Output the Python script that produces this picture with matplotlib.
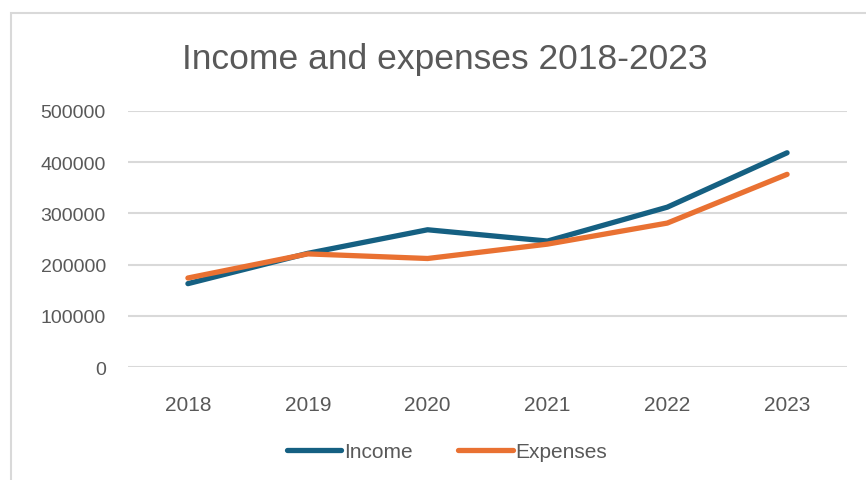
import matplotlib
matplotlib.use("Agg")
import matplotlib.pyplot as plt
from matplotlib.patches import Rectangle

years = ["2018", "2019", "2020", "2021", "2022", "2023"]
income = [163000, 222000, 268000, 246000, 312000, 418000]
expenses = [174000, 221000, 212000, 240000, 281000, 376000]
yticks = [0, 100000, 200000, 300000, 400000, 500000]

text_grey = "#595959"
grid_grey = "#d9d9d9"

plt.rcParams["font.family"] = ["Liberation Sans", "DejaVu Sans"]

fig = plt.figure(figsize=(8.66, 4.81), dpi=100)

# chart frame (runs off the right and bottom edges)
fig.patches.append(Rectangle((11 / 866, -0.1), 1.2, 1 - 13.5 / 481 + 0.1,
                             transform=fig.transFigure, fill=False,
                             edgecolor=grid_grey, linewidth=1.5))

ax = fig.add_axes([128 / 866, 1 - 368.3 / 481, (847 - 128) / 866, (368.3 - 111.7) / 481])
x = range(len(years))
l1, = ax.plot(x, income, color="#156082", linewidth=3.8,
              solid_capstyle="round", solid_joinstyle="round", label="Income")
l2, = ax.plot(x, expenses, color="#E97132", linewidth=3.8,
              solid_capstyle="round", solid_joinstyle="round", label="Expenses")

ax.set_xlim(-0.5, len(years) - 0.5)
ax.set_ylim(0, 500000)
ax.set_yticks(yticks)
ax.set_yticklabels([str(v) for v in yticks])
ax.set_xticks(list(x))
ax.set_xticklabels(years)
ax.grid(axis="y", color=grid_grey, linewidth=1.5)
ax.set_axisbelow(True)
for s in ax.spines.values():
    s.set_visible(False)
ax.tick_params(length=0, labelcolor=text_grey)
ax.tick_params(axis="y", pad=16, labelsize=14)
ax.tick_params(axis="x", pad=20, labelsize=15)

fig.text(445 / 866, 1 - 59 / 481, "Income and expenses 2018-2023",
         ha="center", va="center", fontsize=25.5, color=text_grey)

leg = fig.legend(handles=[l1, l2], loc="center", bbox_to_anchor=(447 / 866, 1 - 453 / 481),
                 ncol=2, frameon=False, fontsize=15, handlelength=2.6,
                 handletextpad=0.12, columnspacing=2.2)
for t in leg.get_texts():
    t.set_color(text_grey)

fig.savefig("out.png", dpi=100)
